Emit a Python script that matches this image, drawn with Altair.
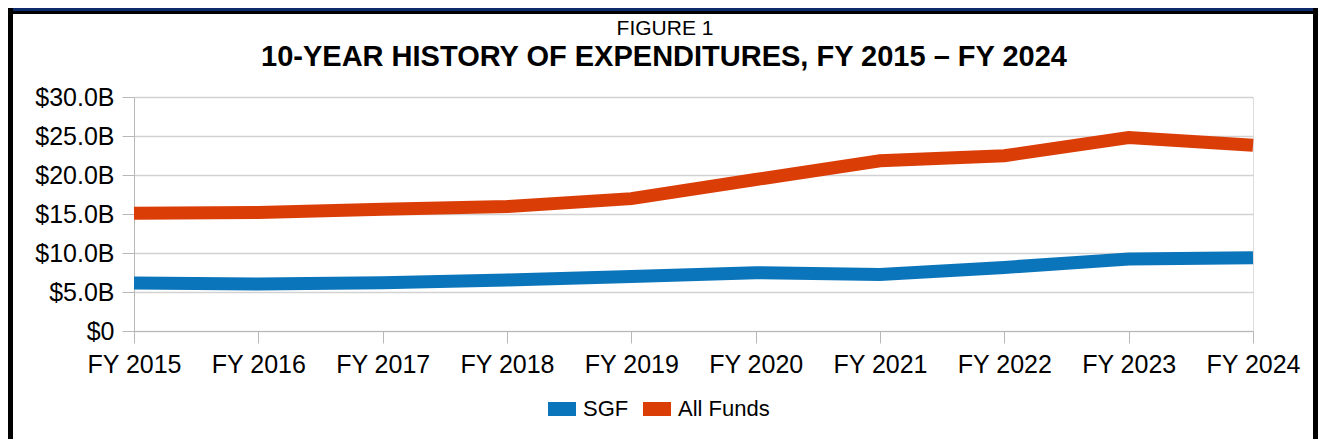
import altair as alt
import pandas as pd

# ---- data ----
years = ["FY 2015", "FY 2016", "FY 2017", "FY 2018", "FY 2019",
         "FY 2020", "FY 2021", "FY 2022", "FY 2023", "FY 2024"]
sgf = [6.16, 6.03, 6.20, 6.55, 7.00, 7.47, 7.25, 8.15, 9.23, 9.40]
all_funds = [15.10, 15.20, 15.60, 15.95, 16.97, 19.42, 21.82, 22.47, 24.80, 23.82]
series_names = ["SGF", "All Funds"]
series_colors = ["#0b75bb", "#db3d07"]
y_ticks = [0, 5, 10, 15, 20, 25, 30]
fig_label = "FIGURE 1"
fig_title = "10-YEAR HISTORY OF EXPENDITURES, FY 2015 \u2013 FY 2024"

FONT = "Liberation Sans"

rows = []
for name, vals in zip(series_names, [sgf, all_funds]):
    for i, (yr, v) in enumerate(zip(years, vals)):
        rows.append({"year": yr, "idx": i, "series": name, "value": v})
df = pd.DataFrame(rows)
one = pd.DataFrame({"k": [0]})

W, H = 1119, 234
PAD = {"left": 126, "top": 89, "right": 65, "bottom": 108}

lines = alt.Chart(df).mark_line(strokeWidth=13, strokeCap="butt", strokeJoin="miter").encode(
    x=alt.X("year:N", sort=years, scale=alt.Scale(type="point", padding=0),
            axis=alt.Axis(title=None, labelAngle=0, labelFontSize=25, labelFont=FONT,
                          labelColor="black", tickSize=12, tickColor="#b8b8b8",
                          domainColor="#b8b8b8", labelPadding=9, grid=False)),
    y=alt.Y("value:Q", scale=alt.Scale(domain=[0, 30], nice=False),
            axis=alt.Axis(title=None, values=y_ticks, tickSize=12, tickColor="#b8b8b8",
                          domainColor="#b8b8b8", gridColor="#d2d2d2", gridWidth=1.5,
                          labelFontSize=25, labelFont=FONT, labelColor="black", labelPadding=8,
                          labelExpr="datum.value == 0 ? '$0' : '$' + format(datum.value, '.1f') + 'B'")),
    color=alt.Color("series:N", sort=series_names,
                    scale=alt.Scale(domain=series_names, range=series_colors),
                    legend=alt.Legend(title=None, orient="none", legendX=407, legendY=291,
                                      direction="horizontal", symbolType="stroke",
                                      symbolSize=784, symbolStrokeWidth=14,
                                      labelFontSize=22, labelFont=FONT, labelColor="black",
                                      labelOffset=0, columnPadding=-14, padding=0)),
    order=alt.Order("idx:Q")
)

# frame decoration around the figure
def band(x1, x2, y1, y2, color):
    return alt.Chart(one).mark_rect(color=color).encode(
        x=alt.value(x1), x2=alt.value(x2), y=alt.value(y1), y2=alt.value(y2))

left_edge = -PAD["left"]
right_edge = W + PAD["right"]
top_edge = -PAD["top"]
bottom_edge = H + PAD["bottom"]

frame = [
    band(left_edge, right_edge, top_edge, top_edge + 3, "#0d2a6b"),
    band(left_edge, right_edge, top_edge + 3, top_edge + 6, "#000000"),
    band(left_edge, left_edge + 5, top_edge, bottom_edge, "#000000"),
    band(right_edge - 5, right_edge, top_edge, bottom_edge, "#000000"),
]

t1 = alt.Chart(one).mark_text(font=FONT, fontSize=21, color="black", baseline="alphabetic",
                              align="center").encode(
    x=alt.value(531), y=alt.value(-62), text=alt.value(fig_label))
t2 = alt.Chart(one).mark_text(font=FONT, fontSize=29, fontWeight="bold", color="black",
                              baseline="alphabetic", align="center").encode(
    x=alt.value(530), y=alt.value(-31), text=alt.value(fig_title))

chart = alt.layer(*frame, t1, t2, lines).properties(
    width=W, height=H, padding=PAD, autosize=alt.AutoSizeParams(type="none"),
    background="white"
).configure_view(stroke="#b8b8b8", strokeWidth=1).configure(font=FONT)

chart.save("out.html", embed_options={"renderer": "svg", "actions": False})
